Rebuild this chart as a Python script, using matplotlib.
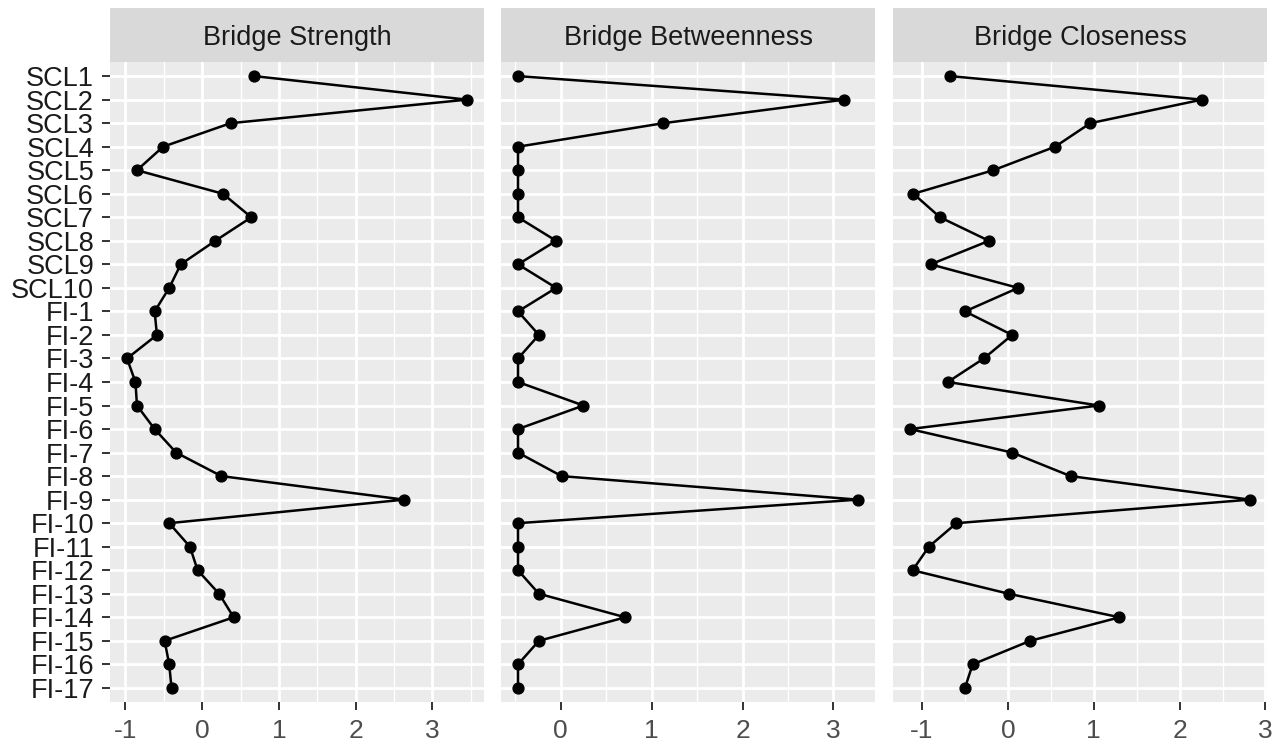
import numpy as np
import matplotlib
matplotlib.use("Agg")
import matplotlib.pyplot as plt
from matplotlib.ticker import MultipleLocator

plt.rcParams['font.family'] = ['Liberation Sans', 'DejaVu Sans']
plt.rcParams['axes.unicode_minus'] = False

nodes = ["SCL1", "SCL2", "SCL3", "SCL4", "SCL5", "SCL6", "SCL7", "SCL8", "SCL9", "SCL10",
         "FI-1", "FI-2", "FI-3", "FI-4", "FI-5", "FI-6", "FI-7", "FI-8", "FI-9", "FI-10",
         "FI-11", "FI-12", "FI-13", "FI-14", "FI-15", "FI-16", "FI-17"]

strength = [0.68, 3.45, 0.37, -0.51, -0.85, 0.27, 0.64, 0.17, -0.28, -0.43,
            -0.62, -0.59, -0.98, -0.87, -0.85, -0.62, -0.34, 0.25, 2.63, -0.43,
            -0.16, -0.06, 0.22, 0.41, -0.49, -0.43, -0.40]

betweenness = [-0.47, 3.12, 1.13, -0.47, -0.47, -0.47, -0.47, -0.05, -0.47, -0.05,
               -0.47, -0.24, -0.47, -0.47, 0.25, -0.47, -0.47, 0.01, 3.27, -0.47,
               -0.47, -0.47, -0.24, 0.71, -0.24, -0.47, -0.47]

closeness = [-0.67, 2.26, 0.96, 0.55, -0.17, -1.10, -0.79, -0.22, -0.90, 0.12,
             -0.50, 0.05, -0.28, -0.70, 1.06, -1.14, 0.05, 0.73, 2.82, -0.60,
             -0.92, -1.11, 0.01, 1.30, 0.26, -0.41, -0.50]

titles = ["Bridge Strength", "Bridge Betweenness", "Bridge Closeness"]
series = [strength, betweenness, closeness]

W, H = 1283, 746
fig = plt.figure(figsize=(W / 100, H / 100), dpi=100)

# panel pixel extents (left, right), shared top/bottom
panels = [(110, 484), (501, 875), (893, 1267)]
p_top, p_bot = 62, 702
s_top = 8

y = np.arange(len(nodes))

for i, (title, vals) in enumerate(zip(titles, series)):
    x0, x1 = panels[i]
    ax = fig.add_axes([x0 / W, (H - p_bot) / H, (x1 - x0) / W, (p_bot - p_top) / H])
    ax.set_facecolor('#EBEBEB')
    for s in ax.spines.values():
        s.set_visible(False)

    v = np.array(vals)
    lo, hi = v.min(), v.max()
    pad = 0.05 * (hi - lo)
    ax.set_xlim(lo - pad, hi + pad)
    ax.set_ylim(len(nodes) - 1 + 0.6, -0.6)

    ax.xaxis.set_major_locator(MultipleLocator(1))
    ax.xaxis.set_minor_locator(MultipleLocator(0.5))
    ax.set_yticks(y)
    ax.grid(which='major', axis='both', color='white', linewidth=2.0)
    ax.grid(which='minor', axis='x', color='white', linewidth=1.0)
    ax.set_axisbelow(True)

    ax.plot(v, y, color='black', linewidth=1.8, marker='o', markersize=7.8, zorder=3)

    ax.tick_params(axis='x', which='major', length=6, width=1.4, color='#333333',
                   labelsize=19, labelcolor='#4D4D4D', pad=6.5)
    ax.tick_params(axis='x', which='minor', length=0)
    if i == 0:
        ax.set_yticklabels(nodes)
        ax.tick_params(axis='y', length=6, width=1.4, color='#333333',
                       labelsize=19.5, labelcolor='#1A1A1A', pad=5.5)
    else:
        ax.tick_params(axis='y', length=0, labelleft=False)

    # facet strip
    sax = fig.add_axes([x0 / W, (H - p_top) / H, (x1 - x0) / W, (p_top - s_top) / H])
    sax.set_facecolor('#D9D9D9')
    sax.set_xticks([])
    sax.set_yticks([])
    for s in sax.spines.values():
        s.set_visible(False)
    sax.text(0.5, 0.44, title, ha='center', va='center', fontsize=19.5,
             color='#1A1A1A', transform=sax.transAxes)

fig.savefig('out.png', dpi=100, facecolor='white')
